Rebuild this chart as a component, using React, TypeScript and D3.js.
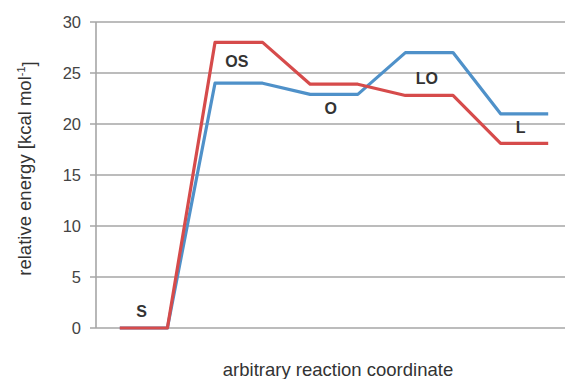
import React from "react";
import * as d3 from "d3";

const stepIndex = [0, 1, 2, 3, 4, 5, 6, 7, 8, 9];
const redSeries = [0, 0, 28, 28, 23.9, 23.9, 22.8, 22.8, 18.1, 18.1];
const blueSeries = [0, 0, 24, 24, 22.9, 22.9, 27, 27, 21, 21];
const yTicks = [0, 5, 10, 15, 20, 25, 30];
const stateLabels = ["S", "OS", "O", "LO", "L"];
const stateLabelAt = [
  { x: 0.46, y: 1.1 },
  { x: 2.46, y: 25.6 },
  { x: 4.43, y: 21.0 },
  { x: 6.45, y: 23.9 },
  { x: 8.42, y: 19.1 },
];

const W = 565;
const H = 379;
const left = 96;
const right = 572;
const top = 22;
const bottom = 328;

export default function App() {
  const x = d3.scaleBand<number>().domain(stepIndex).range([left, right]);
  const cx = (i: number) => (x(i) as number) + x.bandwidth() / 2;
  const y = d3.scaleLinear().domain([0, 30]).range([bottom, top]);
  const line = d3
    .line<number>()
    .x((_, i) => cx(i))
    .y((d) => y(d));
  const lx = d3.scaleLinear().domain([0, 9]).range([cx(0), cx(9)]);
  const font = "'Liberation Sans', Arial, Helvetica, sans-serif";
  return (
    <svg
      width={W}
      height={H}
      style={{ position: "absolute", left: 0, top: 0, background: "#fff" }}
      fontFamily={font}
    >
      {yTicks.map((t) => (
        <g key={t}>
          <line x1={90} x2={W} y1={y(t)} y2={y(t)} stroke="#a6a6a6" strokeWidth={1.6} />
          <text x={81} y={y(t)} dy="0.36em" textAnchor="end" fontSize={16.5} fill="#444">
            {t}
          </text>
        </g>
      ))}
      <line x1={left} x2={left} y1={top} y2={bottom} stroke="#a6a6a6" strokeWidth={1.6} />
      <path d={line(blueSeries) || ""} fill="none" stroke="#4f91c9" strokeWidth={3.2} strokeLinejoin="round" />
      <path d={line(redSeries) || ""} fill="none" stroke="#d64b4b" strokeWidth={3.2} strokeLinejoin="round" />
      {stateLabels.map((s, i) => (
        <text
          key={s}
          x={lx(stateLabelAt[i].x)}
          y={y(stateLabelAt[i].y)}
          textAnchor="middle"
          fontSize={16}
          fontWeight="bold"
          fill="#333"
        >
          {s}
        </text>
      ))}
      <text
        transform={`translate(31,${(57 + 280) / 2}) rotate(-90)`}
        textAnchor="middle"
        fontSize={18.5}
        fill="#333"
      >
        relative energy [kcal mol
        <tspan dy="-0.55em" fontSize={11}>-1</tspan>
        <tspan dy="0.55em">]</tspan>
      </text>
      <text x={338} y={375.5} textAnchor="middle" fontSize={18.5} fill="#333">
        arbitrary reaction coordinate
      </text>
    </svg>
  );
}
